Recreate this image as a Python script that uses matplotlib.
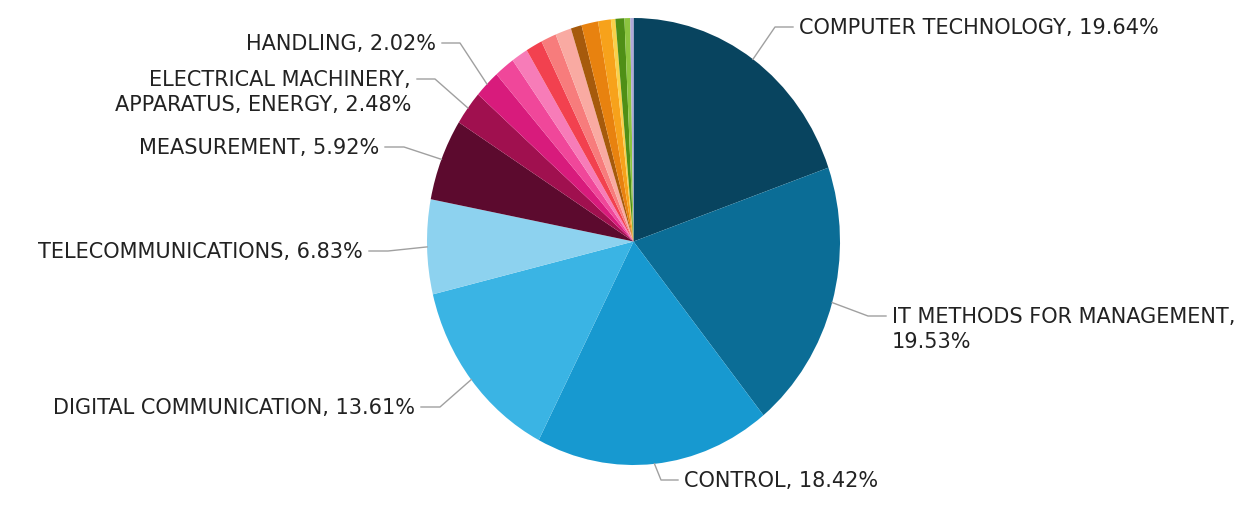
import matplotlib
matplotlib.use("Agg")
import matplotlib.pyplot as plt
import numpy as np

categories = ["COMPUTER TECHNOLOGY", "IT METHODS FOR MANAGEMENT", "CONTROL",
              "DIGITAL COMMUNICATION", "TELECOMMUNICATIONS", "MEASUREMENT",
              "ELECTRICAL MACHINERY, APPARATUS, ENERGY", "HANDLING",
              "o1", "o2", "o3", "o4", "o5", "o6", "o7", "o8", "o9", "o10", "o11", "o12"]
values = [19.64, 19.53, 18.42, 13.61, 6.83, 5.92, 2.48, 2.02,
          1.6, 1.3, 1.3, 1.2, 1.25, 0.85, 1.3, 1.0, 0.35, 0.7, 0.45, 0.25]
colors = ["#08445f", "#0b6d96", "#1799d0", "#3ab4e4", "#8dd2ef", "#5c0a2e",
          "#a0104f", "#d81b7c", "#f0479a", "#f77cb8", "#f2414f", "#f77c7c",
          "#f9aaa2", "#a65a0c", "#e8820f", "#f7a21b", "#f9d14a", "#4f8f16",
          "#8cc43f", "#b0a8d8"]
label_lines = [["COMPUTER TECHNOLOGY, 19.64%"],
               ["IT METHODS FOR MANAGEMENT,", "19.53%"],
               ["CONTROL, 18.42%"],
               ["DIGITAL COMMUNICATION, 13.61%"],
               ["TELECOMMUNICATIONS, 6.83%"],
               ["MEASUREMENT, 5.92%"],
               ["ELECTRICAL MACHINERY,", "APPARATUS, ENERGY, 2.48%"],
               ["HANDLING, 2.02%"]]

W, H = 1260, 518
fig = plt.figure(figsize=(W / 100, H / 100), dpi=100)
fig.patch.set_facecolor("white")

# pie axes (elliptical as in reference)
px0, px1, py0, py1 = 427, 840, 18, 465
ax = fig.add_axes([px0 / W, (H - py1) / H, (px1 - px0) / W, (py1 - py0) / H])
wedges, _ = ax.pie(values, colors=colors, startangle=90, counterclock=False,
                   radius=1.0, wedgeprops=dict(linewidth=0))
ax.set_aspect("auto")
ax.set_xlim(-1, 1)
ax.set_ylim(-1, 1)
ax.axis("off")

# overlay axes in pixel coordinates for leader lines and labels
ov = fig.add_axes([0, 0, 1, 1], zorder=5)
ov.set_xlim(0, W)
ov.set_ylim(H, 0)
ov.axis("off")
ov.patch.set_alpha(0)

cx, cy = (px0 + px1) / 2, (py0 + py1) / 2
rx, ry = (px1 - px0) / 2, (py1 - py0) / 2

# label layout: (elbow x, elbow y, horizontal end x, side, wedge-anchor fraction)
layout = [
    (775, 27, 793, "r", 0.5),
    (868, 316, 886, "r", 0.5),
    (661, 480, 678, "r", 0.5),
    (440, 407, 421, "l", 0.5),
    (388, 251, 369, "l", 0.5),
    (404, 147, 385, "l", 0.5),
    (435, 79, 417, "l", 0.5),
    (460, 43, 442, "l", 0.5),
]
FS = 15
LINE_H = 25
TCOL = "#222222"

for i, (ex, ey, hx, side, frac) in enumerate(layout):
    w = wedges[i]
    mid = np.deg2rad(w.theta1 + (w.theta2 - w.theta1) * frac)
    ax_pt = cx + rx * 1.0 * np.cos(mid)
    ay_pt = cy - ry * 1.0 * np.sin(mid)
    ov.plot([ax_pt, ex, hx], [ay_pt, ey, ey], color="#a0a0a0", lw=1.0)
    for k, line in enumerate(label_lines[i]):
        if side == "r":
            ov.text(hx + 6, ey + 1 + k * LINE_H, line, ha="left", va="center",
                    fontsize=FS, color=TCOL, family="DejaVu Sans")
        else:
            ov.text(hx - 6, ey + 1 + k * LINE_H, line, ha="right", va="center",
                    fontsize=FS, color=TCOL, family="DejaVu Sans")

fig.savefig("out.png", dpi=100, facecolor="white")
